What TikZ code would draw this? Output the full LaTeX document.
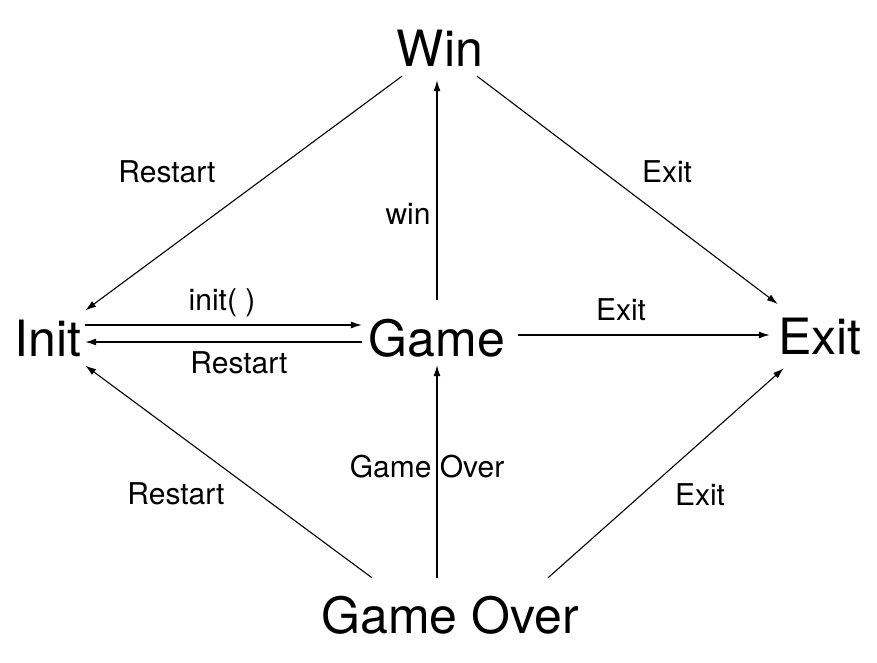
\documentclass[tikz,border=0pt]{standalone}
\usepackage{fontspec}
\setmainfont{TeX Gyre Heros}
\usetikzlibrary{arrows.meta,calc}
\begin{document}
\begin{tikzpicture}[x=1pt,y=-1pt,
  state/.style={font=\fontsize{50}{50}\selectfont, inner sep=0pt},
  lbl/.style={font=\fontsize{30}{30}\selectfont, inner sep=0pt},
  conn/.style={draw=black, line width=1.1pt, -{Latex[length=11pt,width=7pt]}}]
\useasboundingbox[fill=white] (0,0) rectangle (877,663);
% states
\node[state, minimum width=100pt, minimum height=56pt] (win) at (440,48) {Win};
\node[state, minimum width=74pt, minimum height=56pt] (init) at (48,338) {Init};
\node[state, minimum width=150pt, minimum height=76pt] (game) at (437,338) {Game};
\node[state, minimum width=84pt, minimum height=64pt] (exit) at (820,336) {Exit};
\node[state, minimum width=260pt, minimum height=74pt] (go) at (450,615) {Game Over};
% connectors
\draw[conn] (win) -- (init);
\draw[conn] (win) -- (exit);
\draw[conn, shorten >=4pt] (game.north) -- (game.north |- win.south);
\draw[conn] ([yshift=13pt]init.east) -- ([yshift=13pt]init.east -| game.west);
\draw[conn] ([yshift=-4pt]game.west) -- ([yshift=-4pt]game.west -| init.east);
\draw[conn, shorten <=6pt, shorten >=8pt] ([yshift=3pt]game.east) -- ([yshift=3pt]game.east -| exit.west);
\draw[conn] ([xshift=-78pt]go.north) -- (init);
\draw[conn, shorten >=-11pt] (go.north -| game) -- (game.south);
\draw[conn] ([xshift=98pt]go.north) -- (exit);
% labels
\node[lbl] (l1) at (167,172) {Restart};
\node[lbl] (l2) at (408,214) {win};
\node[lbl] (l3) at (667,172) {Exit};
\node[lbl] (l4) at (222,303) {init( )};
\node[lbl] (l5) at (239,363) {Restart};
\node[lbl] (l6) at (621,310) {Exit};
\node[lbl] (l7) at (176,494) {Restart};
\node[lbl] (l8) at (427,467) {Game Over};
\node[lbl] (l9) at (700,495) {Exit};
\end{tikzpicture}
\end{document}
